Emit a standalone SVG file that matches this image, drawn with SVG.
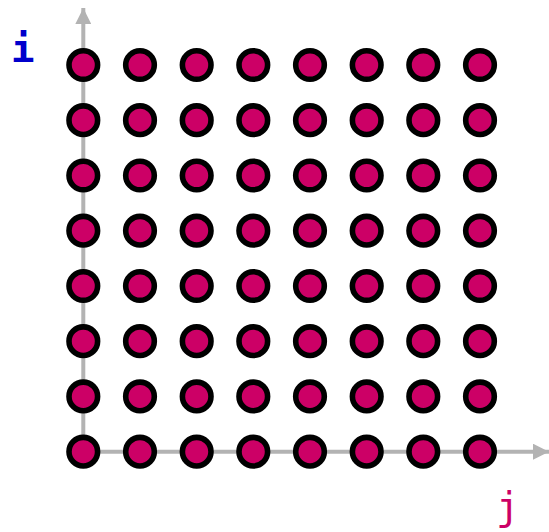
<svg xmlns="http://www.w3.org/2000/svg" width="549" height="532" viewBox="0 0 549 532">
<style>
.dot{fill:#cc0066;stroke:#000;stroke-width:5.6}
.axis{stroke:#b3b3b3;stroke-width:4;fill:none}
.lbl{font-family:"DejaVu Sans Mono",monospace;font-size:39px}
</style>
<defs>
<marker id="ah" viewBox="0 0 10 10" refX="10" refY="5" markerWidth="4" markerHeight="4" markerUnits="strokeWidth" orient="auto">
<path d="M0,0 L10,5 L0,10 z" fill="#b3b3b3"/>
</marker>
<g id="row">
<circle class="dot" cx="83.3" cy="0" r="14.3"/>
<circle class="dot" cx="140" cy="0" r="14.3"/>
<circle class="dot" cx="196.7" cy="0" r="14.3"/>
<circle class="dot" cx="253.3" cy="0" r="14.3"/>
<circle class="dot" cx="310" cy="0" r="14.3"/>
<circle class="dot" cx="366.7" cy="0" r="14.3"/>
<circle class="dot" cx="423.3" cy="0" r="14.3"/>
<circle class="dot" cx="480" cy="0" r="14.3"/>
</g>
</defs>
<g id="connectors">
<line class="axis" x1="83.3" y1="451.7" x2="83.3" y2="8" marker-end="url(#ah)"/>
<line class="axis" x1="83.3" y1="451.7" x2="549" y2="451.7" marker-end="url(#ah)"/>
</g>
<g id="dots">
<use href="#row" y="65"/>
<use href="#row" y="120.2"/>
<use href="#row" y="175.5"/>
<use href="#row" y="230.7"/>
<use href="#row" y="286"/>
<use href="#row" y="341.2"/>
<use href="#row" y="396.4"/>
<use href="#row" y="451.7"/>
</g>
<g id="labels">
<text class="lbl" x="11" y="62" fill="#0000cc" font-weight="bold">i</text>
<text class="lbl" x="496" y="520" fill="#cc0066">j</text>
</g>
</svg>
